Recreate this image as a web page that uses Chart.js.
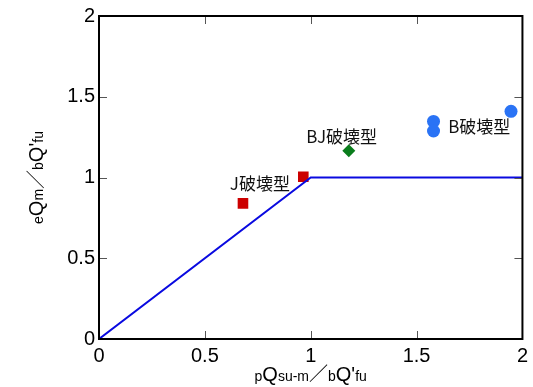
<!DOCTYPE html>
<html>
<head>
<meta charset="utf-8">
<script src="https://cdn.jsdelivr.net/npm/chart.js@4.4.1/dist/chart.umd.min.js"></script>
<style>
  html, body { margin: 0; padding: 0; background: #fff; }
  canvas { display: block; }
</style>
</head>
<body>
<canvas id="chart" width="533" height="387"></canvas>
<script>
// measured ratios by failure type
const jPoints = [[0.68, 0.84], [0.965, 1.005]];
const bjPoints = [[1.18, 1.165]];
const bPoints = [[1.58, 1.347], [1.58, 1.288], [1.946, 1.41]];

// strength limit line
const limitX = [0, 1, 2];
const limitY = [0, 1, 1];

const tickValues = [0, 0.5, 1, 1.5, 2];
const tickLabels = ['0', '0.5', '1', '1.5', '2'];

// failure type labels and where they sit (data units)
const typeLabels = ['J破壊型', 'BJ破壊型', 'B破壊型'];
const typeLabelX = [0.76, 1.146, 1.796];
const typeLabelY = [0.96, 1.256, 1.318];

const LATIN = "'Liberation Sans', Arial, sans-serif";
const CJK = "'Noto Sans CJK JP', sans-serif";

const toXY = pts => pts.map(p => ({ x: p[0], y: p[1] }));

// text runs with mixed sizes: [text, size, family]
const xTitle = [['p', 14], ['Q', 20], ['su-m', 14], ['／', 19, CJK], ['b', 14], ["Q'", 20], ['fu', 14]];
const yTitle = [['e', 14], ['Q', 20], ['m', 14], ['／', 19, CJK], ['b', 14], ["Q'", 20], ['fu', 14]];

function drawRuns(ctx, runs, cx, baseY) {
  const font = r => r[1] + 'px ' + (r[2] || LATIN);
  let total = 0;
  runs.forEach(r => { ctx.font = font(r); total += ctx.measureText(r[0]).width; });
  let x = cx - total / 2;
  ctx.textAlign = 'left';
  ctx.textBaseline = 'alphabetic';
  runs.forEach(r => {
    ctx.font = font(r);
    ctx.fillText(r[0], x, baseY);
    x += ctx.measureText(r[0]).width;
  });
}

const decorPlugin = {
  id: 'decor',
  afterDraw(chart) {
    const { ctx, chartArea: a, scales: { x, y } } = chart;
    ctx.save();

    // inward ticks on all four sides
    ctx.strokeStyle = '#555';
    ctx.lineWidth = 1;
    ctx.beginPath();
    tickValues.forEach(v => {
      const px = Math.round(x.getPixelForValue(v)) + 0.5;
      const py = Math.round(y.getPixelForValue(v)) + 0.5;
      ctx.moveTo(px, a.bottom); ctx.lineTo(px, a.bottom - 8);
      ctx.moveTo(px, a.top); ctx.lineTo(px, a.top + 8);
      ctx.moveTo(a.left, py); ctx.lineTo(a.left + 8, py);
      ctx.moveTo(a.right, py); ctx.lineTo(a.right - 8, py);
    });
    ctx.stroke();

    // frame
    ctx.strokeStyle = '#000';
    ctx.lineWidth = 2;
    ctx.strokeRect(a.left, a.top, a.right - a.left, a.bottom - a.top);

    // failure type labels
    ctx.fillStyle = '#111';
    ctx.font = '17px ' + CJK;
    ctx.textAlign = 'center';
    ctx.textBaseline = 'middle';
    typeLabels.forEach((t, i) => {
      ctx.fillText(t, x.getPixelForValue(typeLabelX[i]), y.getPixelForValue(typeLabelY[i]));
    });

    // axis titles
    ctx.fillStyle = '#000';
    drawRuns(ctx, xTitle, (a.left + a.right) / 2, 381);
    ctx.translate(43, (a.top + a.bottom) / 2);
    ctx.rotate(-Math.PI / 2);
    drawRuns(ctx, yTitle, 0, 0);

    ctx.restore();
  }
};

const tickFont = { family: LATIN, size: 20 };
const tickText = (v, i) => tickLabels[i];

new Chart(document.getElementById('chart'), {
  type: 'scatter',
  data: {
    datasets: [
      {
        type: 'line',
        data: limitX.map((v, i) => ({ x: v, y: limitY[i] })),
        borderColor: '#0a0ae0',
        borderWidth: 2,
        pointRadius: 0,
        fill: false,
        tension: 0
      },
      {
        data: toXY(jPoints),
        pointStyle: 'rect',
        pointRadius: 7.5,
        backgroundColor: '#cc0000',
        borderWidth: 0
      },
      {
        data: toXY(bjPoints),
        pointStyle: 'rectRot',
        pointRadius: 6.5,
        backgroundColor: '#0a7d1c',
        borderWidth: 0
      },
      {
        data: toXY(bPoints),
        pointStyle: 'circle',
        pointRadius: 6.5,
        backgroundColor: '#2a73f5',
        borderWidth: 0
      }
    ]
  },
  options: {
    responsive: false,
    animation: false,
    layout: { padding: { top: 15, right: 7, left: 0, bottom: 0 } },
    plugins: { legend: { display: false }, tooltip: { enabled: false } },
    scales: {
      x: {
        type: 'linear',
        min: 0,
        max: 2,
        afterBuildTicks: s => { s.ticks = tickValues.map(v => ({ value: v })); },
        afterFit: s => { s.height = 48; },
        grid: { display: false, drawTicks: false },
        border: { display: false },
        ticks: { color: '#000', font: tickFont, padding: 5, maxRotation: 0, callback: tickText }
      },
      y: {
        type: 'linear',
        min: 0,
        max: 2,
        afterBuildTicks: s => { s.ticks = tickValues.map(v => ({ value: v })); },
        afterFit: s => { s.width = 99; },
        grid: { display: false, drawTicks: false },
        border: { display: false },
        ticks: { color: '#000', font: tickFont, padding: 4, callback: tickText }
      }
    }
  },
  plugins: [decorPlugin]
});
</script>
</body>
</html>
